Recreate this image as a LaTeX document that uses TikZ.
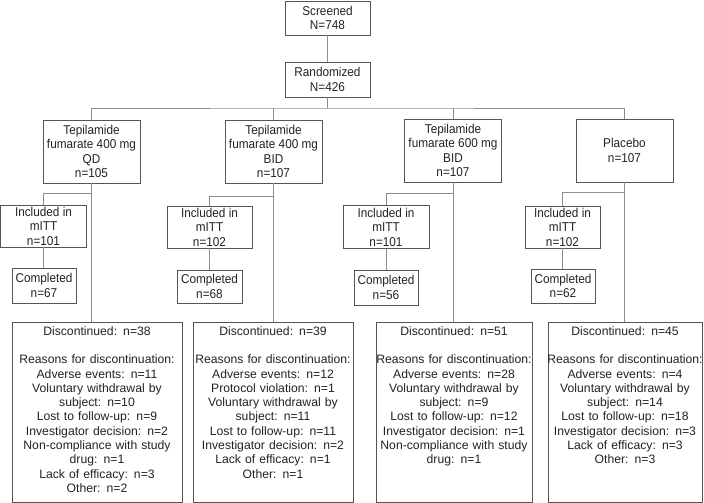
\documentclass[tikz,border=0pt]{standalone}
\usepackage{fontspec}
\setmainfont{Liberation Sans}
\newfontfamily\armfont[FakeStretch=0.92]{Liberation Sans}
\definecolor{boxgray}{HTML}{555555}
\definecolor{linegray}{HTML}{8C8C8C}
\definecolor{txtgray}{HTML}{222222}

\begin{document}
\begin{tikzpicture}[x=1pt,y=-1pt,
  box/.style={draw=boxgray,line width=0.8pt,align=center,inner sep=0pt,text=txtgray,
    font=\armfont\fontsize{12.8}{14.5}\selectfont},
  discframe/.style={draw=boxgray,line width=0.8pt,minimum height=180pt,inner sep=0pt},
  disctext/.style={anchor=north,align=center,text width=160pt,inner xsep=0pt,inner ysep=4.5pt,
    text=txtgray,font=\fontsize{12.2}{14.3}\selectfont},
  link/.style={draw=linegray,line width=0.8pt}]
\useasboundingbox (0,0) rectangle (704,503);

\node [box,minimum width=85pt,minimum height=34pt] (screened) at (327.5,18) {Screened\\N=748};
\node [box,minimum width=85pt,minimum height=35pt] (randomized) at (327.5,79.5) {Randomized\\N=426};
\coordinate (bus) at (327.5,108);

\node [box,minimum width=97pt,minimum height=63pt] (arm1) at (91.5,151.5) {Tepilamide\\fumarate 400 mg\\QD\\n=105};
\node [box,minimum width=97pt,minimum height=63pt] (arm2) at (273.5,151.5) {Tepilamide\\fumarate 400 mg\\BID\\n=107};
\node [box,minimum width=97pt,minimum height=63pt] (arm3) at (453,150.5) {Tepilamide\\fumarate 600 mg\\BID\\n=107};
\node [box,minimum width=97pt,minimum height=63pt] (arm4) at (624.5,150.5) {Placebo\\n=107};

\coordinate (split1) at (91.5,193);
\coordinate (split2) at (273.5,196);
\coordinate (split3) at (453,193);
\coordinate (split4) at (624.5,192);

\node [box,minimum width=86pt,minimum height=42pt] (incl1) at (43.5,226) {Included in\\mITT\\n=101};
\node [box,minimum width=85pt,minimum height=42pt] (incl2) at (209.5,227) {Included in\\mITT\\n=102};
\node [box,minimum width=86pt,minimum height=43pt] (incl3) at (386,227) {Included in\\mITT\\n=101};
\node [box,minimum width=75pt,minimum height=42pt] (incl4) at (562.5,227) {Included in\\mITT\\n=102};

\node [box,minimum width=64pt,minimum height=35pt] (comp1) at (44,285.5) {Completed\\n=67};
\node [box,minimum width=65pt,minimum height=33pt] (comp2) at (209.5,286.5) {Completed\\n=68};
\node [box,minimum width=64pt,minimum height=35pt] (comp3) at (386,287.5) {Completed\\n=56};
\node [box,minimum width=64pt,minimum height=34pt] (comp4) at (563,286) {Completed\\n=62};

\node [discframe,minimum width=170pt] (disc1) at (97,412) {};
\node [discframe,minimum width=160pt] (disc2) at (273,412) {};
\node [discframe,minimum width=156pt] (disc3) at (454,412) {};
\node [discframe,minimum width=154pt] (disc4) at (625,412) {};

\node [disctext] (reasons1) at (disc1.north) {Discontinued: n=38\\[14.3pt]
  Reasons for discontinuation:\\Adverse events: n=11\\Voluntary withdrawal by\\subject: n=10\\
  Lost to follow-up: n=9\\Investigator decision: n=2\\Non-compliance with study\\drug: n=1\\
  Lack of efficacy: n=3\\Other: n=2};
\node [disctext] (reasons2) at (disc2.north) {Discontinued: n=39\\[14.3pt]
  Reasons for discontinuation:\\Adverse events: n=12\\Protocol violation: n=1\\Voluntary withdrawal by\\
  subject: n=11\\Lost to follow-up: n=11\\Investigator decision: n=2\\Lack of efficacy: n=1\\Other: n=1};
\node [disctext] (reasons3) at (disc3.north) {Discontinued: n=51\\[14.3pt]
  Reasons for discontinuation:\\Adverse events: n=28\\Voluntary withdrawal by\\subject: n=9\\
  Lost to follow-up: n=12\\Investigator decision: n=1\\Non-compliance with study\\drug: n=1};
\node [disctext] (reasons4) at (disc4.north) {Discontinued: n=45\\[14.3pt]
  Reasons for discontinuation:\\Adverse events: n=4\\Voluntary withdrawal by\\subject: n=14\\
  Lost to follow-up: n=18\\Investigator decision: n=3\\Lack of efficacy: n=3\\Other: n=3};

\draw [link] (screened) -- (randomized);
\draw [link] (randomized) -- (bus);
\draw [link] (arm1.north) |- (bus) -| (arm4.north);
\draw [link] (arm2.north) -- (arm2.north |- bus);
\draw [link] (arm3.north) -- (arm3.north |- bus);

\draw [link] (arm1.south) -- (arm1.south |- disc1.north);
\draw [link] (arm2.south) -- (arm2.south |- disc2.north);
\draw [link] (arm3.south) -- (arm3.south |- disc3.north);
\draw [link] (arm4.south) -- (arm4.south |- disc4.north);

\draw [link] (split1) -| (incl1.north);
\draw [link] (split2) -| (incl2.north);
\draw [link] (split3) -| (incl3.north);
\draw [link] (split4) -| (incl4.north);

\draw [link] (incl1.south) -- (incl1.south |- comp1.north);
\draw [link] (incl2.south) -- (incl2.south |- comp2.north);
\draw [link] (incl3.south) -- (incl3.south |- comp3.north);
\draw [link] (incl4.south) -- (incl4.south |- comp4.north);
\end{tikzpicture}
\end{document}
